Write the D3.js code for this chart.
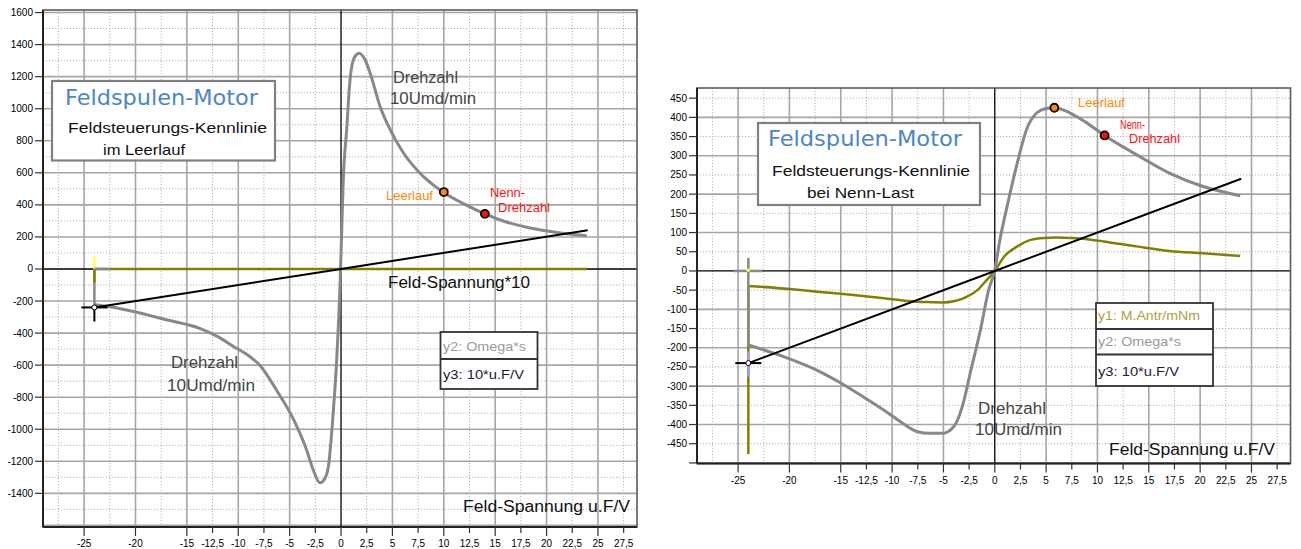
<!DOCTYPE html>
<html>
<head>
<meta charset="utf-8">
<script src="https://cdn.jsdelivr.net/npm/d3@7"></script>
<style>
  body { margin: 0; background: #fff; }
  svg { display: block; font-family: "Liberation Sans", Arial, sans-serif; }
</style>
</head>
<body>
<div id="chart"></div>
<script>
// ---- data ----
const xTicks = [-25, -20, -15, -12.5, -10, -7.5, -5, -2.5, 0, 2.5, 5, 7.5, 10, 12.5, 15, 17.5, 20, 22.5, 25, 27.5];
const xGridMajor = [-25, -20, -15, -10, -5, 5, 10, 15, 20, 25];
const xGridMinor = [-27.5, -22.5, -17.5, -12.5, -7.5, -2.5, 2.5, 7.5, 12.5, 17.5, 22.5, 27.5];

const leftYTicks = [1600, 1400, 1200, 1000, 800, 600, 400, 200, 0, -200, -400, -600, -800, -1000, -1200, -1400];
const leftYGridMajor = [1600, 1400, 1200, 1000, 800, 600, 400, 200, -200, -400, -600, -800, -1000, -1200, -1400, -1600];
const leftYGridMinor = [1500, 1300, 1100, 900, 700, 500, 300, 100, -100, -300, -500, -700, -900, -1100, -1300, -1500];

const rightYTicks = [450, 400, 350, 300, 250, 200, 150, 100, 50, 0, -50, -100, -150, -200, -250, -300, -350, -400, -450, -500];
const rightYGridMajor = [400, 300, 200, 100, -100, -200, -300, -400, -500];
const rightYGridMinor = [450, 350, 250, 150, 50, -50, -150, -250, -350, -450];

// left chart: no load (Leerlauf)
const leftOmega = [[-24, -223], [-22.5, -236], [-20.2, -265], [-17, -317], [-13.7, -372], [-12, -422], [-10.5, -482],
  [-8.85, -548], [-7.9, -600], [-6.3, -754], [-4.6, -942], [-3.35, -1129], [-2.7, -1254], [-2.05, -1334], [-1.6, -1310],
  [-1.23, -1233], [-0.74, -879], [-0.42, -567], [-0.26, -358], [-0.1, -108], [0.07, 246], [0.22, 558], [0.55, 871],
  [0.88, 1183], [1.3, 1320], [1.78, 1346], [2.3, 1310], [2.82, 1225], [3.79, 1016], [4.77, 871], [6.06, 725], [7.5, 610],
  [9.95, 479], [12, 405], [14, 344], [16, 295], [18.4, 256], [21, 228], [23.9, 208]];
const leftVoltage = [[-24, -240], [0, 0], [24, 242]];
const leftTorque = [[-24, 0], [23.9, 0]];
const leftStubs = [[-24, 0, -223], [-24, 0, -85], [-24, 0, 80]];   // x, from, to (gray, olive, yellow)
const leftPoints = [[10, 480], [14, 344]];

// right chart: rated load (Nenn-Last)
const rightOmega = [[-24, -193], [-20.5, -224], [-17.3, -259], [-15, -292], [-12.75, -329], [-10.5, -368], [-8.9, -398],
  [-7.6, -418], [-6.3, -423], [-5, -423], [-4.4, -416], [-3.8, -398], [-3, -337], [-2.4, -267], [-1.4, -154], [-0.6, -50],
  [0, 2], [0.5, 81], [1.2, 168], [2.2, 282], [3.1, 369], [4.1, 412], [5, 423], [5.8, 425], [7.3, 412], [9, 385],
  [10.7, 353], [13.8, 303], [17, 255], [20.3, 220], [23.9, 196]];
const rightTorque = [[-24, -39], [-20, -47], [-17.3, -54], [-14, -62], [-10.8, -71], [-8.5, -78], [-6.5, -81], [-5, -82],
  [-4, -79], [-3, -71], [-1.7, -50], [-0.8, -24], [0, 0], [0.9, 37], [2.2, 64], [3.5, 81], [4.8, 86], [6, 87], [7.5, 86],
  [8.5, 84], [10.6, 77], [13.8, 64], [17, 52], [20.3, 46], [23.9, 39]];
const rightVoltage = [[-24, -240], [0, 0], [24, 240]];
const rightStubs = [[-24, -38, -477], [-24, 34, -193], [-24, -210, -275]];  // olive, gray, blue
const rightPoints = [[5.8, 425], [10.7, 353]];

const crossY = -240;   // cursor cross at start of voltage line

// ---- drawing ----
const svg = d3.select('#chart').append('svg').attr('width', 1301).attr('height', 549);

const fmt = v => String(v).replace('.', ',');

const drawChart = (cfg) => {
  const x = d3.scaleLinear().domain([-29, 28.8]).range([cfg.left, cfg.right]);
  const y = d3.scaleLinear().domain(cfg.yDomain).range([cfg.bottom, cfg.top]);
  const g = svg.append('g');

  g.append('rect').attr('x', cfg.left).attr('y', cfg.top)
    .attr('width', cfg.right - cfg.left).attr('height', cfg.bottom - cfg.top).attr('fill', '#fff');

  // grid
  g.selectAll('.vminor').data(xGridMinor).enter().append('line')
    .attr('x1', d => x(d)).attr('x2', d => x(d)).attr('y1', cfg.top).attr('y2', cfg.bottom)
    .attr('stroke', '#b4b4b4').attr('stroke-width', 1).attr('stroke-dasharray', '1.2,1.8');
  g.selectAll('.hminor').data(cfg.yMinor).enter().append('line')
    .attr('x1', cfg.left).attr('x2', cfg.right).attr('y1', d => y(d)).attr('y2', d => y(d))
    .attr('stroke', '#b4b4b4').attr('stroke-width', 1).attr('stroke-dasharray', '1.2,1.8');
  g.selectAll('.vmajor').data(xGridMajor).enter().append('line')
    .attr('x1', d => x(d)).attr('x2', d => x(d)).attr('y1', cfg.top).attr('y2', cfg.bottom)
    .attr('stroke', '#a6a6a6').attr('stroke-width', 1.6);
  g.selectAll('.hmajor').data(cfg.yMajor).enter().append('line')
    .attr('x1', cfg.left).attr('x2', cfg.right).attr('y1', d => y(d)).attr('y2', d => y(d))
    .attr('stroke', '#a6a6a6').attr('stroke-width', 1.6);

  // zero axes
  g.append('line').attr('x1', x(0)).attr('x2', x(0)).attr('y1', cfg.top).attr('y2', cfg.bottom)
    .attr('stroke', '#000').attr('stroke-width', 1.3);
  g.append('line').attr('x1', cfg.left).attr('x2', cfg.right).attr('y1', y(0)).attr('y2', y(0))
    .attr('stroke', '#000').attr('stroke-width', 1.3);

  // frame
  g.append('rect').attr('x', cfg.left).attr('y', cfg.top)
    .attr('width', cfg.right - cfg.left).attr('height', cfg.bottom - cfg.top)
    .attr('fill', 'none').attr('stroke', '#5a5a5a').attr('stroke-width', 1.6);
  g.append('line').attr('x1', cfg.left).attr('x2', cfg.left).attr('y1', cfg.top).attr('y2', cfg.bottom)
    .attr('stroke', '#222').attr('stroke-width', 2);
  g.append('line').attr('x1', cfg.left).attr('x2', cfg.right).attr('y1', cfg.bottom).attr('y2', cfg.bottom)
    .attr('stroke', '#222').attr('stroke-width', 2);

  // x ticks
  g.selectAll('.xt').data(xTicks).enter().append('line')
    .attr('x1', d => x(d)).attr('x2', d => x(d)).attr('y1', cfg.bottom)
    .attr('y2', d => cfg.bottom + (d % 5 === 0 ? 9 : 6))
    .attr('stroke', '#333').attr('stroke-width', 1.2);
  g.selectAll('.xl').data(xTicks).enter().append('text')
    .attr('x', d => x(d)).attr('y', cfg.bottom + 20).attr('text-anchor', 'middle')
    .attr('font-size', 10).attr('fill', '#000').text(fmt);

  // y ticks
  g.selectAll('.yt').data(cfg.yTicks).enter().append('line')
    .attr('x1', cfg.left - 8).attr('x2', cfg.left).attr('y1', d => y(d)).attr('y2', d => y(d))
    .attr('stroke', '#333').attr('stroke-width', 1.2);
  g.selectAll('.yl').data(cfg.yTicks.filter(d => cfg.yLabelled(d))).enter().append('text')
    .attr('x', cfg.left - 10).attr('y', d => y(d) + 3.5).attr('text-anchor', 'end')
    .attr('font-size', 10).attr('fill', '#000').text(fmt);

  const line = d3.line().x(d => x(d[0])).y(d => y(d[1])).curve(d3.curveMonotoneX);
  const straight = d3.line().x(d => x(d[0])).y(d => y(d[1]));

  return { g, x, y, line, straight };
};

const stub = (c, s, color, w) => c.g.append('line')
  .attr('x1', c.x(s[0])).attr('x2', c.x(s[0])).attr('y1', c.y(s[1])).attr('y2', c.y(s[2]))
  .attr('stroke', color).attr('stroke-width', w);

const cross = (c) => {
  const cx = c.x(-24), cy = c.y(crossY);
  c.g.append('line').attr('x1', cx - 13).attr('x2', cx + 13).attr('y1', cy).attr('y2', cy)
    .attr('stroke', '#000').attr('stroke-width', 2);
  c.g.append('circle').attr('cx', cx).attr('cy', cy).attr('r', 2.5)
    .attr('fill', '#fff').attr('stroke', '#000').attr('stroke-width', 1);
};

const marker = (c, p, color) => c.g.append('circle')
  .attr('cx', c.x(p[0])).attr('cy', c.y(p[1])).attr('r', 4)
  .attr('fill', color).attr('stroke', '#000').attr('stroke-width', 1.8);

const txt = (g, x, y, s, size, color, len, family) => {
  const t = g.append('text').attr('x', x).attr('y', y).attr('font-size', size).attr('fill', color).text(s);
  if (len) t.attr('textLength', len).attr('lengthAdjust', 'spacingAndGlyphs');
  if (family) t.attr('font-family', family);
  return t;
};

const titleBox = (g, x0, y0, x1, y1) => g.append('rect').attr('x', x0).attr('y', y0)
  .attr('width', x1 - x0).attr('height', y1 - y0)
  .attr('fill', '#fff').attr('stroke', '#808080').attr('stroke-width', 2.2);

const legendBox = (g, x0, y0, x1, rows) => {
  g.append('rect').attr('x', x0).attr('y', y0).attr('width', x1 - x0).attr('height', rows[rows.length - 1] - y0)
    .attr('fill', '#fff').attr('stroke', '#333').attr('stroke-width', 1.8);
  rows.slice(0, -1).forEach(r => g.append('line').attr('x1', x0).attr('x2', x1).attr('y1', r).attr('y2', r)
    .attr('stroke', '#333').attr('stroke-width', 1.8));
};

const OLIVE = '#808000', GRAY = '#888888', ORANGE = '#ff8a00', RED = '#ff1010';
const TITLE = '#4a86c8';

// ---------- left chart ----------
const L = drawChart({
  left: 43, right: 637, top: 10, bottom: 527, yDomain: [-1610, 1616],
  yTicks: leftYTicks, yMajor: leftYGridMajor, yMinor: leftYGridMinor, yLabelled: () => true
});

stub(L, leftStubs[0], GRAY, 2.5);
L.g.append('path').datum(leftOmega).attr('d', L.line).attr('fill', 'none').attr('stroke', GRAY).attr('stroke-width', 3);
L.g.append('path').datum(leftTorque).attr('d', L.straight).attr('fill', 'none').attr('stroke', OLIVE).attr('stroke-width', 2.5);
stub(L, leftStubs[1], OLIVE, 2.5);
stub(L, leftStubs[2], '#ffff50', 2.5);
L.g.append('line').attr('x1', L.x(-24)).attr('x2', L.x(-22.5)).attr('y1', L.y(0)).attr('y2', L.y(0))
  .attr('stroke', GRAY).attr('stroke-width', 2.5);
L.g.append('path').datum(leftVoltage).attr('d', L.straight).attr('fill', 'none').attr('stroke', '#000').attr('stroke-width', 2);
L.g.append('line').attr('x1', L.x(-24)).attr('x2', L.x(-24)).attr('y1', L.y(crossY)).attr('y2', L.y(-328))
  .attr('stroke', '#000').attr('stroke-width', 2);
cross(L);
marker(L, leftPoints[0], ORANGE);
marker(L, leftPoints[1], RED);

titleBox(L.g, 52, 81, 275, 160.5);
txt(L.g, 65, 105, 'Feldspulen-Motor', 22, TITLE, 193, '"DejaVu Sans", sans-serif');
txt(L.g, 68, 133, 'Feldsteuerungs-Kennlinie', 14.5, '#111', 199);
txt(L.g, 103, 155, 'im Leerlauf', 14.5, '#111', 82);

txt(L.g, 393, 83, 'Drehzahl', 16, '#444', 65);
txt(L.g, 390, 104, '10Umd/min', 16, '#444', 86);
txt(L.g, 171, 368, 'Drehzahl', 16, '#444', 67);
txt(L.g, 167, 391, '10Umd/min', 16, '#444', 88);
txt(L.g, 386, 200, 'Leerlauf', 12.5, ORANGE, 47);
txt(L.g, 490, 197, 'Nenn-', 12.5, RED, 35);
txt(L.g, 498, 212, 'Drehzahl', 12.5, RED, 52);
txt(L.g, 388, 288, 'Feld-Spannung*10', 16, '#111', 142);
txt(L.g, 463, 512, 'Feld-Spannung u.F/V', 16, '#111', 167);

legendBox(L.g, 440.5, 332, 537.5, [359, 389]);
txt(L.g, 443, 351, 'y2: Omega*s', 13.5, '#9a9a9a', 83);
txt(L.g, 443, 379, 'y3: 10*u.F/V', 13.5, '#1a1a3a', 81);

// ---------- right chart ----------
const R = drawChart({
  left: 697, right: 1290.5, top: 88, bottom: 463.5, yDomain: [-501.5, 476.5],
  yTicks: rightYTicks, yMajor: rightYGridMajor, yMinor: rightYGridMinor, yLabelled: d => d !== -500
});

R.g.append('path').datum(rightTorque).attr('d', R.line).attr('fill', 'none').attr('stroke', OLIVE).attr('stroke-width', 2.5);
stub(R, rightStubs[0], OLIVE, 2.5);
stub(R, rightStubs[1], GRAY, 2.5);
R.g.append('path').datum(rightOmega).attr('d', R.line).attr('fill', 'none').attr('stroke', GRAY).attr('stroke-width', 3);
stub(R, rightStubs[2], '#9a9cff', 2.5);
R.g.append('line').attr('x1', R.x(-25.4)).attr('x2', R.x(-22.6)).attr('y1', R.y(0)).attr('y2', R.y(0))
  .attr('stroke', GRAY).attr('stroke-width', 2.5);
R.g.append('circle').attr('cx', R.x(-24)).attr('cy', R.y(2)).attr('r', 1.8).attr('fill', '#ffff40');
R.g.append('path').datum(rightVoltage).attr('d', R.straight).attr('fill', 'none').attr('stroke', '#000').attr('stroke-width', 2);
cross(R);
marker(R, rightPoints[0], ORANGE);
marker(R, rightPoints[1], RED);

titleBox(R.g, 758, 123, 980, 205);
txt(R.g, 768, 146, 'Feldspulen-Motor', 22, TITLE, 194, '"DejaVu Sans", sans-serif');
txt(R.g, 772, 176, 'Feldsteuerungs-Kennlinie', 14.5, '#111', 198);
txt(R.g, 807, 198, 'bei Nenn-Last', 14.5, '#111', 107);

txt(R.g, 1078, 107, 'Leerlauf', 12.5, ORANGE, 47);
txt(R.g, 1120, 129, 'Nenn-', 12.5, RED, 25);
txt(R.g, 1129, 143, 'Drehzahl', 12.5, RED, 51);
txt(R.g, 978, 414, 'Drehzahl', 16, '#444', 68);
txt(R.g, 975, 435, '10Umd/min', 16, '#444', 87);
txt(R.g, 1109, 455, 'Feld-Spannung u.F/V', 16, '#111', 166);

legendBox(R.g, 1096, 303, 1213, [329, 354.5, 386]);
txt(R.g, 1098, 320, 'y1: M.Antr/mNm', 13.5, '#ad9f3c', 102);
txt(R.g, 1098, 346, 'y2: Omega*s', 13.5, '#9a9a9a', 83);
txt(R.g, 1098, 376, 'y3: 10*u.F/V', 13.5, '#1a1a3a', 81);
</script>
</body>
</html>
